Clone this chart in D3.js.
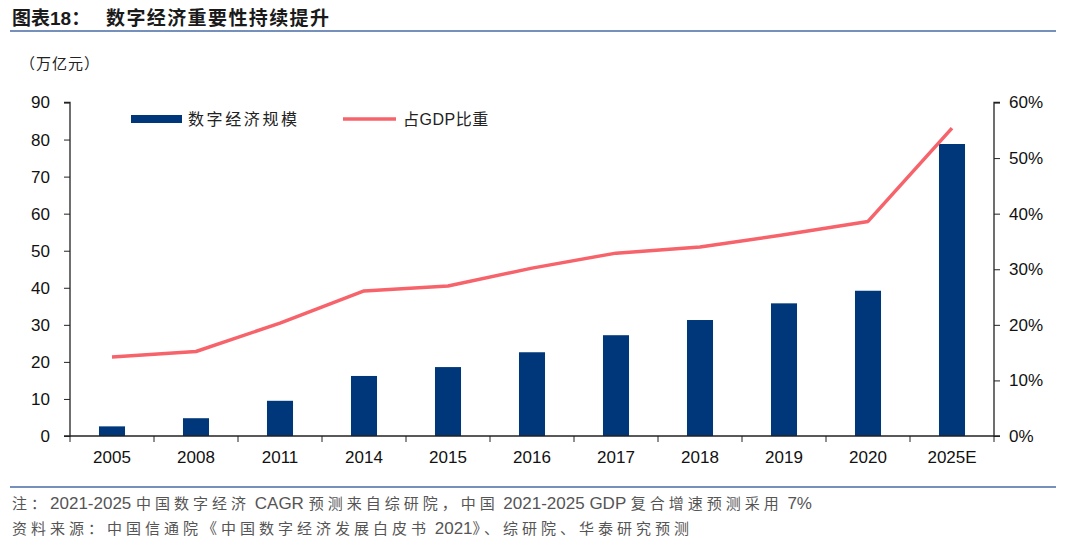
<!DOCTYPE html>
<html><head><meta charset="utf-8">
<script src="https://cdn.jsdelivr.net/npm/d3@7"></script>
<style>
body{margin:0;background:#fff;}
svg{display:block;font-family:"Liberation Sans",Arial,sans-serif;}
.cjk{font-family:"Liberation Sans","Noto Sans CJK SC",sans-serif;}
</style></head>
<body><svg id="c" width="1080" height="554"></svg>
<script>
const categories = ["2005","2008","2011","2014","2015","2016","2017","2018","2019","2020","2025E"];
const scaleValues = [2.6, 4.8, 9.5, 16.2, 18.6, 22.6, 27.2, 31.3, 35.8, 39.2, 78.8];
const gdpShare = [0.142, 0.152, 0.203, 0.261, 0.270, 0.302, 0.329, 0.340, 0.362, 0.386, 0.554];
const leftTicks = [0,10,20,30,40,50,60,70,80,90];
const rightTicks = [0,0.1,0.2,0.3,0.4,0.5,0.6];
const seriesNames = ["数字经济规模","占GDP比重"];
const titleLabel = "图表18：";
const titleText = "数字经济重要性持续提升";
const unitLabel = "（万亿元）";
const notes = ["注：2021-2025 中国数字经济 CAGR 预测来自综研院，中国 2021-2025 GDP 复合增速预测采用 7%",
               "资料来源：中国信通院《中国数字经济发展白皮书 2021》、综研院、华泰研究预测"];

const svg = d3.select("#c");
const L = 70, R = 994, B = 436, T = 102.5;
const barColor = "#00377A", lineColor = "#F7636A", axisColor = "#222", ruleColor = "#7591BB";

const x = d3.scaleBand().domain(categories).range([L, R]).paddingInner(0.69).paddingOuter(0.345);
const yL = d3.scaleLinear().domain([0, 90]).range([B, T]);
const yR = d3.scaleLinear().domain([0, 0.6]).range([B, T]);

// title
svg.append("text").attr("class","cjk").attr("x",12).attr("y",25).attr("font-size",19).attr("font-weight","bold").attr("fill","#1a1a1a").text(titleLabel);
svg.append("text").attr("class","cjk").attr("x",106).attr("y",25).attr("font-size",19).attr("font-weight","bold").attr("fill","#1a1a1a").attr("letter-spacing",1.4).text(titleText);
svg.append("line").attr("x1",10).attr("x2",1056).attr("y1",31).attr("y2",31).attr("stroke",ruleColor).attr("stroke-width",2);

// unit
svg.append("text").attr("class","cjk").attr("x",20).attr("y",69).attr("font-size",15).attr("fill","#222").attr("letter-spacing",1).text(unitLabel);

// bars
svg.append("g").selectAll("rect").data(categories).join("rect")
  .attr("x", d => x(d)).attr("width", x.bandwidth())
  .attr("y", (d,i) => yL(scaleValues[i])).attr("height", (d,i) => B - yL(scaleValues[i]))
  .attr("fill", barColor);

// line
const line = d3.line().x((d,i) => x(categories[i]) + x.bandwidth()/2).y(d => yR(d));
svg.append("path").datum(gdpShare).attr("d", line).attr("fill","none").attr("stroke",lineColor).attr("stroke-width",3.5).attr("stroke-linejoin","round");

// axes
const gl = svg.append("g").attr("transform",`translate(${L},0)`)
  .call(d3.axisLeft(yL).tickValues(leftTicks).tickSize(6).tickPadding(14));
const gr = svg.append("g").attr("transform",`translate(${R},0)`)
  .call(d3.axisRight(yR).tickValues(rightTicks).tickFormat(d3.format(".0%")).tickSize(6).tickPadding(9));
const gb = svg.append("g").attr("transform",`translate(0,${B})`)
  .call(d3.axisBottom(x).tickSize(0).tickPadding(15));
const half = (x.step() - x.bandwidth())/2;
const bounds = categories.map(c => x(c) - half).concat([x(categories[categories.length-1]) + x.bandwidth() + half]);
gb.selectAll(".bt").data(bounds).join("line").attr("class","bt")
  .attr("x1", d=>d).attr("x2", d=>d).attr("y1",0).attr("y2",6).attr("stroke",axisColor);

[gl,gr,gb].forEach(g => {
  g.selectAll(".domain").attr("stroke",axisColor).attr("stroke-width",1.3);
  g.selectAll(".tick line").attr("stroke",axisColor);
  g.selectAll("text").attr("font-size",17).attr("fill","#111").attr("font-family","'Liberation Sans',Arial,sans-serif");
});
gl.select(".domain").attr("d",`M-6,${T}H0V${B}H-6`);
gr.select(".domain").attr("d",`M6,${T}H0V${B}H6`);
gb.select(".domain").attr("d",`M${L},0H${R}`);

// legend
svg.append("rect").attr("x",131).attr("y",115).attr("width",51).attr("height",8).attr("fill",barColor);
svg.append("text").attr("class","cjk").attr("x",188).attr("y",125).attr("font-size",16).attr("letter-spacing",2.6).attr("fill","#222").text(seriesNames[0]);
svg.append("line").attr("x1",343).attr("x2",396).attr("y1",119).attr("y2",119).attr("stroke",lineColor).attr("stroke-width",3.5);
svg.append("text").attr("class","cjk").attr("x",403).attr("y",125).attr("font-size",16).attr("letter-spacing",0.5).attr("fill","#222").text(seriesNames[1]);

// footer
svg.append("line").attr("x1",10).attr("x2",1056).attr("y1",487).attr("y2",487).attr("stroke",ruleColor).attr("stroke-width",2);
notes.forEach((t,i) => {
  const txt = svg.append("text").attr("class","cjk").attr("x",12).attr("y",509 + i*25).attr("fill","#555");
  const runs = t.match(/[\x00-\x7F]+|[^\x00-\x7F]+/g);
  runs.forEach(r => {
    const latin = /^[\x00-\x7F]+$/.test(r);
    txt.append("tspan").attr("font-size", latin ? 17 : 15).attr("letter-spacing", latin ? 0 : 4)
      .style("white-space","pre").text(r);
  });
  txt.attr("xml:space","preserve");
});
</script></body></html>
